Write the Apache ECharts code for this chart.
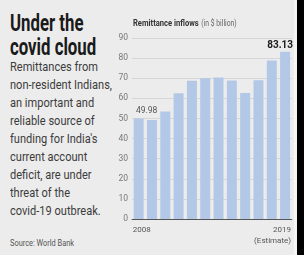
<!DOCTYPE html>
<html>
<head>
<meta charset="utf-8" />
<title>Under the covid cloud</title>
<script src="https://cdn.jsdelivr.net/npm/echarts@6/dist/echarts.min.js"></script>
<style>
  body { margin: 0; background: #000; }
  #card { position: absolute; left: 0; top: 0; width: 294px; height: 255px; background: #ececec; border-right: 3px solid #f6f6f6; overflow: hidden; font-family: Roboto, sans-serif; }
  .narrow { position: absolute; left: 10px; transform-origin: 0 0; white-space: nowrap; }
  #head { top: 12px; font-size: 23px; font-weight: bold; line-height: 24px; color: #1a1a1a; transform: scaleX(0.73); }
  #blurb { top: 58px; font-size: 13px; line-height: 18px; color: #3c3c3c; transform: scaleX(0.85); }
  #src { top: 237px; font-size: 9.5px; line-height: 12px; color: #555; transform: scaleX(0.78); }
  #chart { position: absolute; left: 100px; top: 0; width: 194px; height: 255px; }
</style>
</head>
<body>
<div id="card">
  <!--标题和说明文字-->
  <div id="head" class="narrow">Under the<br>covid cloud</div>
  <div id="blurb" class="narrow">Remittances from<br>non-resident Indians,<br>an important and<br>reliable source of<br>funding for India's<br>current account<br>deficit, are under<br>threat of the<br>covid-19 outbreak.</div>
  <div id="src" class="narrow">Source: World Bank</div>
  <div id="chart"></div>
</div>
<script type="text/javascript">
  // 数据
  var years = ['2008', '2009', '2010', '2011', '2012', '2013', '2014', '2015', '2016', '2017', '2018', '2019'];
  var inflows = [49.98, 49.2, 53.5, 62.5, 68.8, 69.97, 70.4, 68.9, 62.7, 69.0, 78.8, 83.13];
  var yTicks = [0, 10, 20, 30, 40, 50, 60, 70, 80, 90];

  var font = 'Roboto, sans-serif';
  var myChart = echarts.init(document.getElementById('chart'));

  // 只给第一根和最后一根柱子加标签
  var barData = inflows.map(function (v, i) {
    if (i === 0) {
      return { value: v, label: { show: true, position: 'top', distance: 3, offset: [8, 0], color: '#555', fontSize: 8.5, fontFamily: font } };
    }
    if (i === inflows.length - 1) {
      return { value: v, label: { show: true, position: 'top', distance: 1, offset: [-5, 0], color: '#1a1a1a', fontSize: 10, fontWeight: 'bold', fontFamily: font } };
    }
    return v;
  });

  var option = {
    animation: false,
    // 图表标题（压窄的字体）
    graphic: [{
      type: 'text',
      left: 33,
      top: 18,
      scaleX: 0.8,
      style: {
        text: '{a|Remittance inflows} {b|(in $ billion)}',
        rich: {
          a: { fontSize: 9.5, fontWeight: 'bold', fill: '#333', fontFamily: font },
          b: { fontSize: 8.5, fill: '#666', fontFamily: font }
        }
      }
    }],
    grid: { left: 32, right: 0, top: 38, bottom: 36 },
    xAxis: {
      type: 'category',
      data: years,
      axisTick: { show: false },
      axisLine: { lineStyle: { color: '#555', width: 1 } },
      axisLabel: {
        interval: function (i) { return i === 0 || i === years.length - 1; },
        formatter: function (v) { return v === '2019' ? '{r|2019}\n{r|(Estimate)}' : '{l|' + v + '}'; },
        width: 12,
        overflow: 'none',
        color: '#555',
        fontSize: 8,
        lineHeight: 11,
        margin: 5,
        fontFamily: font,
        rich: {
          l: { align: 'left', fontSize: 8, lineHeight: 11, color: '#555', fontFamily: font },
          r: { align: 'right', fontSize: 8, lineHeight: 11, color: '#555', fontFamily: font }
        }
      }
    },
    yAxis: {
      type: 'value',
      min: yTicks[0],
      max: yTicks[yTicks.length - 1],
      interval: 10,
      axisLabel: { color: '#777', fontSize: 8.5, margin: 4, fontFamily: font },
      splitLine: { lineStyle: { color: '#d6d6d6' } },
      axisLine: { show: false },
      axisTick: { show: false }
    },
    series: [{
      type: 'bar',
      data: barData,
      barCategoryGap: '25%',
      itemStyle: { color: '#b3c7e6' }
    }]
  };
  myChart.setOption(option);
</script>
</body>
</html>
